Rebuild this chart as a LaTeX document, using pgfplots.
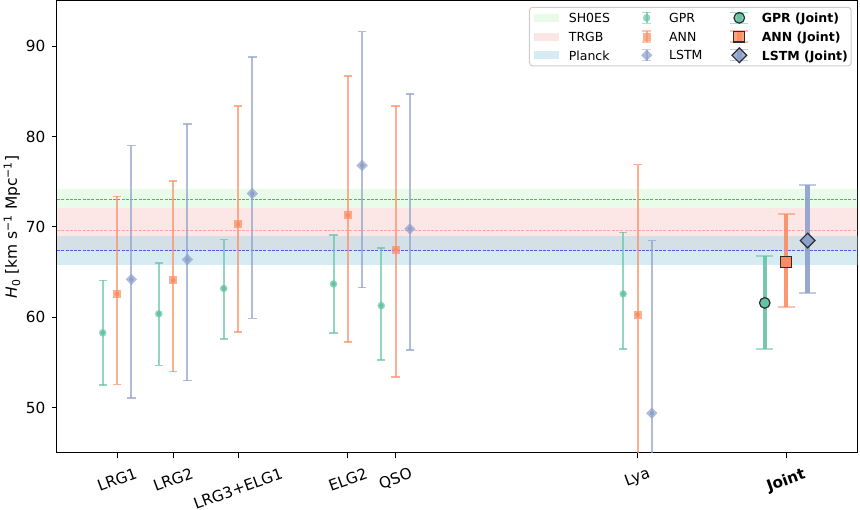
\documentclass[border=0pt]{standalone}
\usepackage{fontspec}
\setmainfont{DejaVu Sans}
\usepackage{graphicx}
\usepackage{pgfplots}
\usepackage{pgfplotstable}
\pgfplotsset{compat=1.18}

\definecolor{gprc}{RGB}{102,194,165}
\definecolor{annc}{RGB}{252,141,98}
\definecolor{lstmc}{RGB}{141,160,203}
\definecolor{shoesf}{RGB}{144,238,144}
\definecolor{trgbf}{RGB}{240,128,128}
\definecolor{planckf}{RGB}{173,216,230}
\definecolor{shoesl}{RGB}{0,128,0}
\definecolor{trgbl}{RGB}{250,128,114}
\definecolor{planckl}{RGB}{0,0,255}
\definecolor{edgec}{RGB}{45,45,45}

% x = tracer redshift position (with offset), y = H0, ep/em = upper/lower error
\pgfplotstableread{
x      y     ep    em
0.460  58.3  5.8   5.8
0.656  60.4  5.6   5.7
0.883  63.2  5.4   5.6
1.267  63.7  5.4   5.4
1.434  61.3  6.4   6.0
2.280  62.6  6.8   6.1
}\gpr
\pgfplotstableread{
x      y     ep    em
0.510  62.6  10.8  10.0
0.706  64.1  11.0  10.1
0.933  70.3  13.1  11.9
1.317  71.3  15.4  14.0
1.484  67.5  15.9  14.1
2.330  60.3  16.6  16.6
}\ann
\pgfplotstableread{
x      y     ep    em
0.560  64.2  14.8  13.1
0.756  66.4  15.0  13.4
0.983  73.7  15.1  13.8
1.367  76.8  14.8  13.5
1.534  69.8  14.9  13.4
2.380  49.4  19.1  19.1
}\lstm
\pgfplotstableread{
x      y     ep    em
2.775  61.6  5.2   5.1
}\gprj
\pgfplotstableread{
x      y     ep    em
2.850  66.1  5.3   5.0
}\annj
\pgfplotstableread{
x      y     ep    em
2.925  68.5  6.2   5.8
}\lstmj

\begin{document}
\begin{tikzpicture}
\useasboundingbox (0,0) rectangle (860pt,510pt);
\begin{axis}[
  at={(57pt,57pt)}, anchor=south west,
  scale only axis, width=800.7pt, height=452pt,
  xmin=0.3, xmax=3.1, ymin=45, ymax=95,
  xtick={0.51,0.706,0.933,1.317,1.484,2.33,2.85},
  xticklabels={{\rotatebox{20}{LRG1}},{\rotatebox{20}{LRG2}},{\rotatebox{20}{LRG3+ELG1}},{\rotatebox{20}{ELG2}},{\rotatebox{20}{QSO}},{\rotatebox{20}{Lya}},{\rotatebox{20}{\textbf{Joint}}}},
  ytick={50,60,70,80,90},
  tick pos=left, tick align=outside,
  major tick length=5.5pt,
  every tick/.style={black, line width=1pt},
  axis line style={line width=1pt, black},
  /pgf/number format/assume math mode=true,
  tick label style={font=\fontsize{15.3}{18}\selectfont},
  xticklabel style={anchor=north, inner sep=0pt, yshift=-8.5pt},
  yticklabel style={inner sep=0pt, xshift=-6pt},
  ylabel={\textit{H}\textsubscript{0} [km s\textsuperscript{−1} Mpc\textsuperscript{−1}]},
  ylabel style={at={(axis description cs:-0.0562,0.5)}, anchor=center, font=\fontsize{15.5}{18}\selectfont},
  legend columns=3,
  legend cell align=left,
  legend style={at={(0.9925,0.987)}, anchor=north east, draw=black!20, line width=1pt,
    rounded corners=3pt, fill=white, fill opacity=0.8, text opacity=1, draw opacity=1,
    inner xsep=4.4pt, inner ysep=1.5pt, column sep=10pt, row sep=0.7pt,
    font=\fontsize{12.5}{15}\selectfont, nodes={inner sep=0pt, text depth=0pt}},
]
% reference bands
\addplot[forget plot, draw=none, fill=shoesf, fill opacity=0.2] coordinates {(0.3,72.15) (3.1,72.15) (3.1,74.25) (0.3,74.25)} -- cycle;
\addplot[forget plot, draw=none, fill=trgbf, fill opacity=0.2] coordinates {(0.3,67.3) (3.1,67.3) (3.1,72.15) (0.3,72.15)} -- cycle;
\addplot[forget plot, draw=none, fill=planckf, fill opacity=0.5] coordinates {(0.3,65.85) (3.1,65.85) (3.1,68.95) (0.3,68.95)} -- cycle;
\addplot[forget plot, shoesl, opacity=0.6, line width=1pt, dash pattern=on 3pt off 1.3pt] coordinates {(0.3,73.06) (3.1,73.06)};
\addplot[forget plot, trgbl, opacity=0.6, line width=1pt, dash pattern=on 3pt off 1.3pt] coordinates {(0.3,69.6) (3.1,69.6)};
\addplot[forget plot, planckl, opacity=0.6, line width=1pt, dash pattern=on 3pt off 1.3pt] coordinates {(0.3,67.36) (3.1,67.36)};

% individual tracers
\addplot[forget plot, gprc, only marks, mark=none, error bars/.cd, y dir=both, y explicit, error mark=-,
  error bar style={gprc, opacity=0.7, line width=2pt},
  error mark options={gprc, rotate=90, opacity=0.7, line width=1.5pt, mark size=4.2pt}]
  table[x=x, y=y, y error plus=ep, y error minus=em] {\gpr};
\addplot[forget plot, gprc, only marks, mark=*, mark size=3.8pt, mark options={gprc, draw opacity=0, fill opacity=0.7}]
  table[x=x, y=y] {\gpr};
\addplot[forget plot, annc, only marks, mark=none, error bars/.cd, y dir=both, y explicit, error mark=-,
  error bar style={annc, opacity=0.7, line width=2pt},
  error mark options={annc, rotate=90, opacity=0.7, line width=1.5pt, mark size=4.2pt}]
  table[x=x, y=y, y error plus=ep, y error minus=em] {\ann};
\addplot[forget plot, annc, only marks, mark=square*, mark size=4pt, mark options={annc, draw opacity=0, fill opacity=0.7}]
  table[x=x, y=y] {\ann};
\addplot[forget plot, lstmc, only marks, mark=none, error bars/.cd, y dir=both, y explicit, error mark=-,
  error bar style={lstmc, opacity=0.7, line width=2pt},
  error mark options={lstmc, rotate=90, opacity=0.7, line width=1.5pt, mark size=4.2pt}]
  table[x=x, y=y, y error plus=ep, y error minus=em] {\lstm};
\addplot[forget plot, lstmc, only marks, mark=square*, mark size=4pt, mark options={lstmc, draw opacity=0, fill opacity=0.7, rotate=45}]
  table[x=x, y=y] {\lstm};

% joint
\addplot[forget plot, gprc, only marks, mark=none, error bars/.cd, y dir=both, y explicit, error mark=-,
  error bar style={gprc, opacity=0.9, line width=4.5pt},
  error mark options={gprc, rotate=90, opacity=0.55, line width=2pt, mark size=8.3pt}]
  table[x=x, y=y, y error plus=ep, y error minus=em] {\gprj};
\addplot[forget plot, gprc, only marks, mark=*, mark size=5.3pt, mark options={draw=edgec, fill=gprc, line width=1.2pt}]
  table[x=x, y=y] {\gprj};
\addplot[forget plot, annc, only marks, mark=none, error bars/.cd, y dir=both, y explicit, error mark=-,
  error bar style={annc, opacity=0.9, line width=4.5pt},
  error mark options={annc, rotate=90, opacity=0.55, line width=2pt, mark size=8.3pt}]
  table[x=x, y=y, y error plus=ep, y error minus=em] {\annj};
\addplot[forget plot, annc, only marks, mark=square*, mark size=5.4pt, mark options={draw=edgec, fill=annc, line width=1.2pt}]
  table[x=x, y=y] {\annj};
\addplot[forget plot, lstmc, only marks, mark=none, error bars/.cd, y dir=both, y explicit, error mark=-,
  error bar style={lstmc, opacity=0.9, line width=4.5pt},
  error mark options={lstmc, rotate=90, opacity=0.55, line width=2pt, mark size=8.3pt}]
  table[x=x, y=y, y error plus=ep, y error minus=em] {\lstmj};
\addplot[forget plot, lstmc, only marks, mark=square*, mark size=5.2pt, mark options={draw=edgec, fill=lstmc, line width=1.2pt, rotate=45}]
  table[x=x, y=y] {\lstmj};

% legend (row-wise order gives the three column layout)
\addlegendimage{legend image code/.code={\path[draw=none] (0pt,-9pt) rectangle (25pt,9pt); \fill[draw=none, sharp corners, shoesf, fill opacity=0.2] (0pt,-4pt) rectangle (25pt,4pt);}}
\addlegendentry{\makebox[55.3pt][l]{SH0ES}}
\addlegendimage{legend image code/.code={\path[draw=none] (0pt,-9pt) rectangle (25pt,9pt);
  \draw[sharp corners, gprc, opacity=0.7, line width=2pt] (12.5pt,-5.5pt) -- (12.5pt,5.5pt);
  \draw[sharp corners, gprc, opacity=0.5, line width=1.2pt] (8.3pt,-5.5pt) -- (16.7pt,-5.5pt) (8.3pt,5.5pt) -- (16.7pt,5.5pt);
  \fill[draw=none, gprc, opacity=0.7] (12.5pt,0pt) circle (3.8pt);}}
\addlegendentry{\makebox[47.6pt][l]{GPR}}
\addlegendimage{legend image code/.code={\path[draw=none] (0pt,-9pt) rectangle (25pt,9pt);
  \draw[sharp corners, gprc, opacity=0.55, line width=1.2pt] (3.5pt,-5.5pt) -- (21.5pt,-5.5pt) (3.5pt,5.5pt) -- (21.5pt,5.5pt);
  \draw[sharp corners, gprc, opacity=0.9, line width=4.5pt] (12.5pt,-5.5pt) -- (12.5pt,5.5pt);
  \filldraw[fill=gprc, draw=edgec, line width=1.2pt] (12.5pt,0pt) circle (5.3pt);}}
\addlegendentry{\makebox[85pt][l]{\textbf{GPR (Joint)}}}
\addlegendimage{legend image code/.code={\path[draw=none] (0pt,-9pt) rectangle (25pt,9pt); \fill[draw=none, sharp corners, trgbf, fill opacity=0.2] (0pt,-4pt) rectangle (25pt,4pt);}}
\addlegendentry{\makebox[55.3pt][l]{TRGB}}
\addlegendimage{legend image code/.code={\path[draw=none] (0pt,-9pt) rectangle (25pt,9pt);
  \draw[sharp corners, annc, opacity=0.7, line width=2pt] (12.5pt,-5.5pt) -- (12.5pt,5.5pt);
  \draw[sharp corners, annc, opacity=0.5, line width=1.2pt] (8.3pt,-5.5pt) -- (16.7pt,-5.5pt) (8.3pt,5.5pt) -- (16.7pt,5.5pt);
  \fill[draw=none, sharp corners, annc, opacity=0.7] (8.5pt,-4pt) rectangle (16.5pt,4pt);}}
\addlegendentry{\makebox[47.6pt][l]{ANN}}
\addlegendimage{legend image code/.code={\path[draw=none] (0pt,-9pt) rectangle (25pt,9pt);
  \draw[sharp corners, annc, opacity=0.55, line width=1.2pt] (3.5pt,-5.5pt) -- (21.5pt,-5.5pt) (3.5pt,5.5pt) -- (21.5pt,5.5pt);
  \draw[sharp corners, annc, opacity=0.9, line width=4.5pt] (12.5pt,-5.5pt) -- (12.5pt,5.5pt);
  \filldraw[sharp corners, fill=annc, draw=edgec, line width=1.2pt] (7.1pt,-5.4pt) rectangle (17.9pt,5.4pt);}}
\addlegendentry{\makebox[85pt][l]{\textbf{ANN (Joint)}}}
\addlegendimage{legend image code/.code={\path[draw=none] (0pt,-9pt) rectangle (25pt,9pt); \fill[draw=none, sharp corners, planckf, fill opacity=0.5] (0pt,-4pt) rectangle (25pt,4pt);}}
\addlegendentry{\makebox[55.3pt][l]{Planck}}
\addlegendimage{legend image code/.code={\path[draw=none] (0pt,-9pt) rectangle (25pt,9pt);
  \draw[sharp corners, lstmc, opacity=0.7, line width=2pt] (12.5pt,-5.5pt) -- (12.5pt,5.5pt);
  \draw[sharp corners, lstmc, opacity=0.5, line width=1.2pt] (8.3pt,-5.5pt) -- (16.7pt,-5.5pt) (8.3pt,5.5pt) -- (16.7pt,5.5pt);
  \fill[draw=none, sharp corners, lstmc, opacity=0.7] (12.5pt,-5.6pt) -- (18.1pt,0pt) -- (12.5pt,5.6pt) -- (6.9pt,0pt) -- cycle;}}
\addlegendentry{\makebox[47.6pt][l]{LSTM}}
\addlegendimage{legend image code/.code={\path[draw=none] (0pt,-9pt) rectangle (25pt,9pt);
  \draw[sharp corners, lstmc, opacity=0.55, line width=1.2pt] (3.5pt,-5.5pt) -- (21.5pt,-5.5pt) (3.5pt,5.5pt) -- (21.5pt,5.5pt);
  \draw[sharp corners, lstmc, opacity=0.9, line width=4.5pt] (12.5pt,-5.5pt) -- (12.5pt,5.5pt);
  \filldraw[sharp corners, fill=lstmc, draw=edgec, line width=1.2pt] (12.5pt,-7.4pt) -- (19.9pt,0pt) -- (12.5pt,7.4pt) -- (5.1pt,0pt) -- cycle;}}
\addlegendentry{\makebox[85pt][l]{\textbf{LSTM (Joint)}}}
\end{axis}
\end{tikzpicture}
\end{document}
